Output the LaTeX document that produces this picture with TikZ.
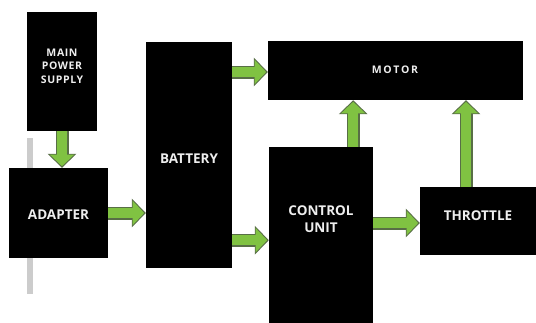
\documentclass[tikz,border=0pt]{standalone}
\usepackage{fontspec}
\setmainfont{Open Sans}
\usetikzlibrary{arrows.meta,calc}
\definecolor{agreen}{RGB}{128,194,66}
\definecolor{aedge}{RGB}{88,110,70}
\definecolor{barg}{RGB}{204,204,204}
\definecolor{txt}{RGB}{238,238,238}
\begin{document}
\begin{tikzpicture}[x=1pt,y=-1pt,
  blk/.style={draw=none,fill=black,text=txt,font=\bfseries,align=center,inner sep=0pt},
  bigtxt/.style={font=\fontsize{13.5}{15}\selectfont\bfseries,text=txt,align=center},
  arrowout/.style={draw=aedge,line width=13pt,-{Triangle[length=14pt,width=28pt]}},
  arrowin/.style={draw=agreen,line width=10.5pt,shorten >=1.6pt,-{Triangle[length=11.5pt,width=23.5pt]}}]
\useasboundingbox (0,0) rectangle (536,322);
\clip (0,0) rectangle (536,322);
\fill[white] (0,0) rectangle (536,322);
% grey bar
\fill[barg] (27,138) rectangle (33,294);
% blocks
\node[blk,minimum width=70pt,minimum height=119pt] (mps) at (62,71.5) {};
\node[bigtxt,font=\fontsize{10.5}{13.5}\selectfont\bfseries\addfontfeature{LetterSpace=6}] (mpstext) at (62,66) {MAIN\\POWER\\SUPPLY};
\node[blk,minimum width=99pt,minimum height=90pt] (adapter) at (58.5,213) {};
\node[bigtxt] (adaptertext) at (58.5,215) {ADAPTER};
\node[blk,minimum width=86pt,minimum height=226pt] (battery) at (189,155) {};
\node[bigtxt] (batterytext) at (189,159) {BATTERY};
\node[blk,minimum width=255pt,minimum height=59pt] (motor) at (395.5,70.5) {};
\node[bigtxt,font=\fontsize{10.5}{12}\selectfont\bfseries] (motortext) at (395,70) {M\kern1.6ptO\kern1.6ptT\kern1.6ptO\kern1.6ptR};
\node[blk,minimum width=104pt,minimum height=185pt] (cu) at (321,239.5) {};
\node[bigtxt,font=\fontsize{13.5}{17}\selectfont\bfseries] (cutext) at (321,219.5) {CONTROL\\UNIT};
\node[blk,minimum width=116pt,minimum height=68pt] (throttle) at (478,221) {};
\node[bigtxt] (throttletext) at (478,216) {THROTTLE};
% connector anchor points
\coordinate (bc) at ($(battery.south east)+(0,-28)$);
\coordinate (cm) at ($(cu.north east)+(-20,0)$);
\coordinate (tm) at ($(throttle.north)+(-12,0)$);
\coordinate (bm) at (battery.east |- 0,72);
\coordinate (ct) at (cu.east |- 0,223);
% arrows (outline then fill)
\foreach \st in {arrowout,arrowin}{
  \draw[\st] (mps.south) -- (mps.south |- adapter.north);
  \draw[\st] (adapter.east) -- (adapter.east -| battery.west);
  \draw[\st] (bm) -- (bm -| motor.west);
  \draw[\st] (bc) -- (bc -| cu.west);
  \draw[\st] (cm) -- (cm |- motor.south);
  \draw[\st] (ct) -- (ct -| throttle.west);
  \draw[\st] (tm) -- (tm |- motor.south);
}
\end{tikzpicture}
\end{document}
